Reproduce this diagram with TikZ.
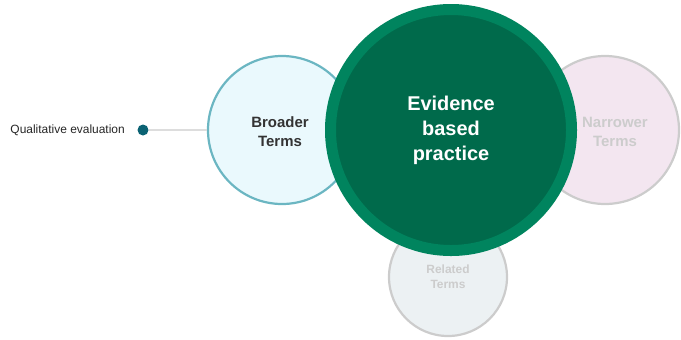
\documentclass[tikz,border=0pt]{standalone}
\usepackage{fontspec}
\setmainfont{Liberation Sans}
\definecolor{mainouter}{HTML}{00845E}
\definecolor{maininner}{HTML}{006A4B}
\definecolor{brstroke}{HTML}{6BB6C2}
\definecolor{brfill}{HTML}{EAF9FD}
\definecolor{nafill}{HTML}{F3E6F0}
\definecolor{refill}{HTML}{ECF1F3}
\definecolor{faded}{HTML}{CCCCCC}
\definecolor{dotcol}{HTML}{0B6273}
\definecolor{linkcol}{HTML}{DDDDDD}
\begin{document}
\begin{tikzpicture}[x=1bp,y=-1bp,
  termcircle/.style={circle,inner sep=0pt,line width=2.2bp,align=center,font=\bfseries},
  bigcircle/.style={circle,inner sep=0pt,fill=maininner,draw=mainouter,line width=11bp,minimum size=241bp,align=center,text=white,font=\fontsize{20}{25}\selectfont\bfseries},
]
\useasboundingbox (0,0) rectangle (681,339);
\node[termcircle,draw=brstroke,fill=brfill,minimum size=148bp] (broader) at (282,130) {};
\node[termcircle,draw=faded,fill=nafill,minimum size=148bp] (narrower) at (605,130) {};
\node[termcircle,draw=faded,fill=refill,minimum size=118bp] (related) at (448,277) {};
\node[text=faded,align=center,font=\fontsize{12}{15}\selectfont\bfseries] (relatedlbl) at (448,277) {Related\\Terms};
\node[text=faded,align=center,font=\fontsize{15}{19}\selectfont\bfseries] (narrowerlbl) at (615,132) {Narrower\\Terms};
\node[text=black!80,align=center,font=\fontsize{15}{19}\selectfont\bfseries] (broaderlbl) at (280,132) {Broader\\Terms};
\node[bigcircle] (main) at (451,130) {Evidence\\based\\practice};
\node[circle,fill=dotcol,inner sep=0pt,minimum size=11bp] (dot) at (143,130) {};
\draw[linkcol,line width=1.2bp] (dot) -- (broader.west);
\node[anchor=east,font=\fontsize{12}{14}\selectfont,text=black!85,inner sep=0pt] (qual) at (125,130) {Qualitative evaluation};
\end{tikzpicture}
\end{document}
